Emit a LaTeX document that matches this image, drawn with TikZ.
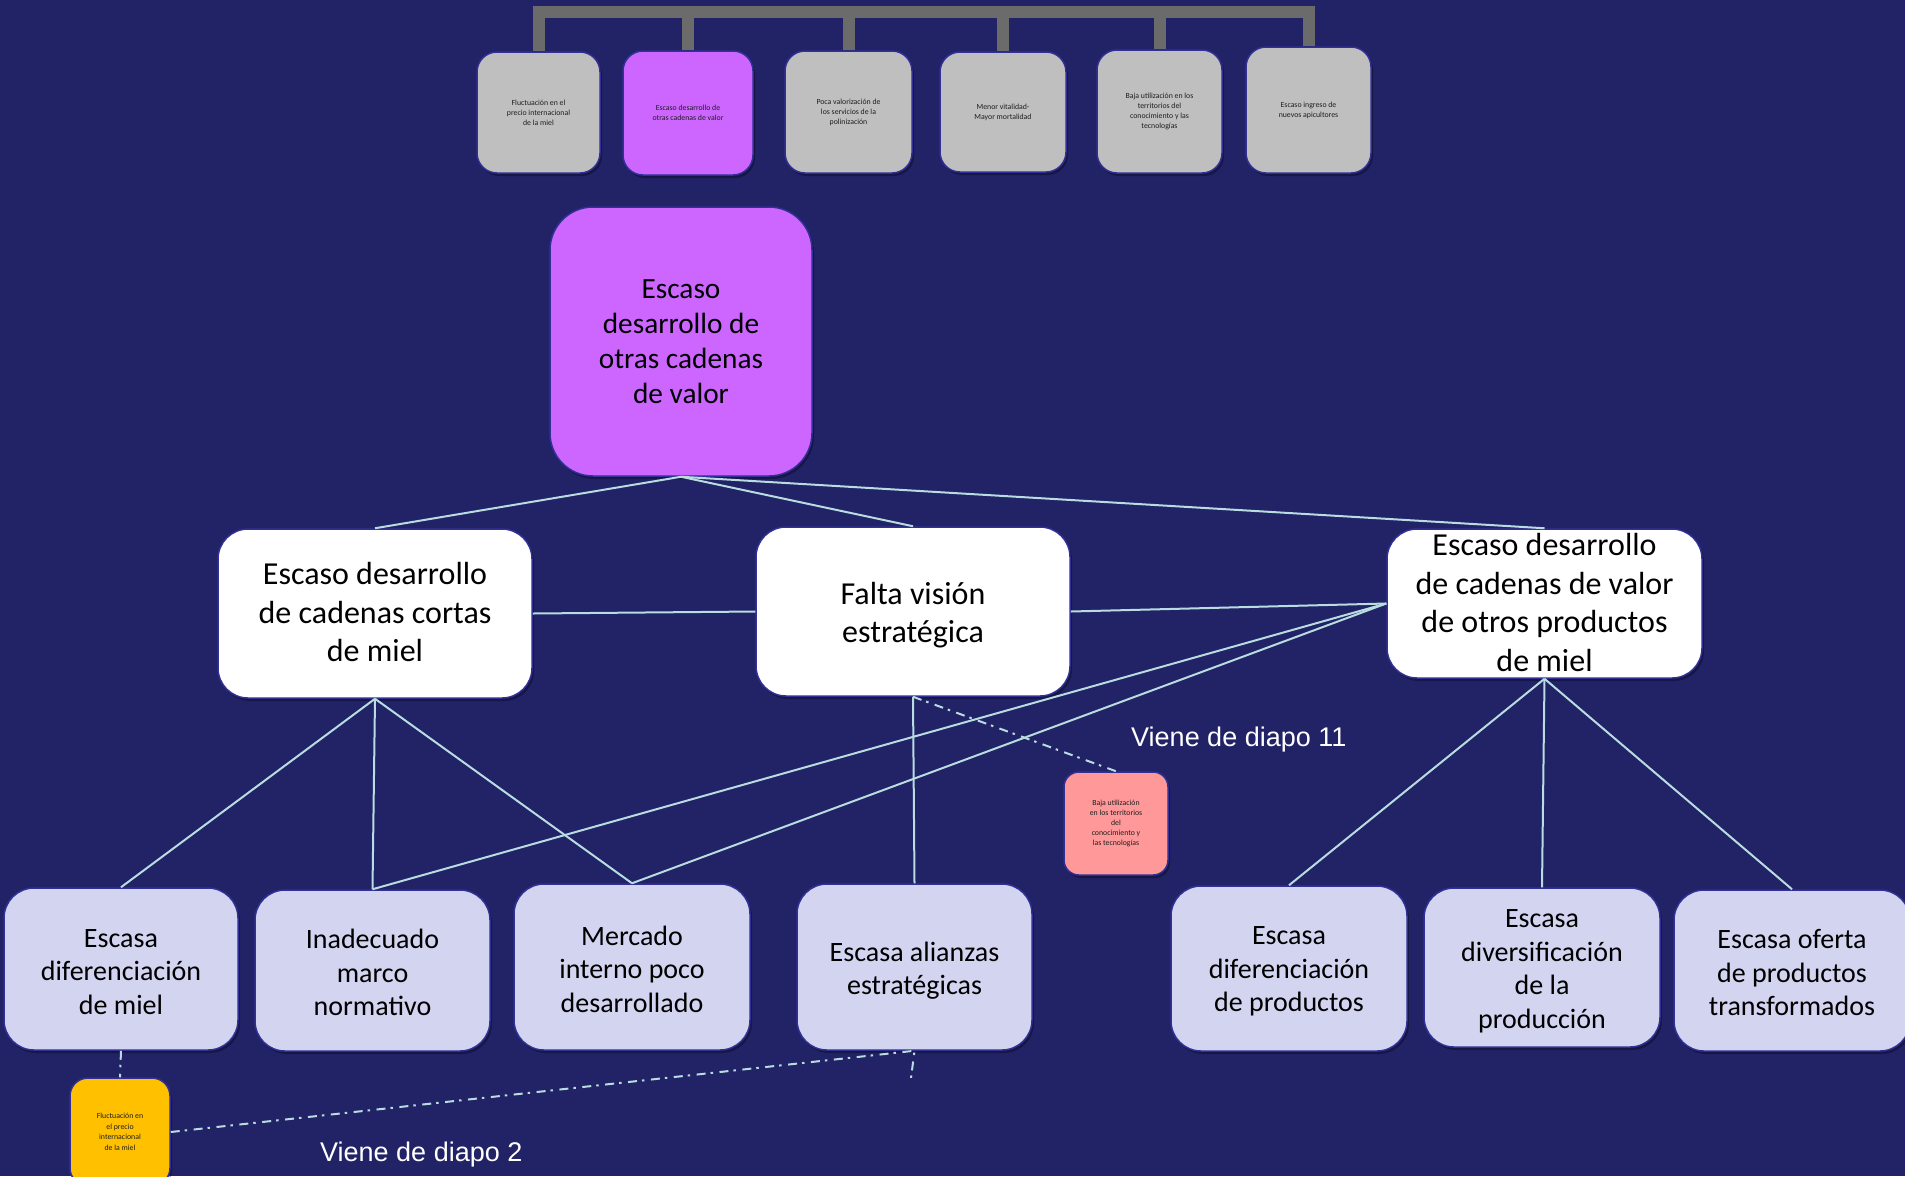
\documentclass[tikz,border=0pt]{standalone}
\usepackage{fontspec}
\setmainfont{Carlito}
\newfontfamily\arialf{Liberation Sans}
\usetikzlibrary{shadows}
\definecolor{bgc}{RGB}{34,34,102}
\definecolor{bordc}{RGB}{48,48,150}
\definecolor{grayc}{RGB}{191,191,191}
\definecolor{purp}{RGB}{204,102,255}
\definecolor{lav}{RGB}{210,212,240}
\definecolor{pinkc}{RGB}{255,153,153}
\definecolor{yelc}{RGB}{255,192,0}
\definecolor{linkc}{RGB}{184,220,224}
\definecolor{barc}{RGB}{107,107,107}
\definecolor{smalltxt}{RGB}{30,30,30}
\tikzset{
 box/.style={rectangle, draw=bordc, line width=1.5pt, inner sep=0pt, align=center, text=black,
   drop shadow={shadow xshift=2pt, shadow yshift=-3pt, opacity=0.3, fill=black}},
 topbox/.style={box, fill=grayc, rounded corners=20pt, font=\fontsize{7.8}{10}\selectfont, text=smalltxt},
 midbox/.style={box, fill=white, rounded corners=30pt, font=\fontsize{32}{38.5}\selectfont, minimum width=314pt, minimum height=169pt},
 lowbox/.style={box, fill=lav, rounded corners=30pt, minimum width=235pt},
 lowtext/.style={inner sep=0pt, align=center, text=black, font=\fontsize{28}{33.5}\selectfont},
 midtext/.style={inner sep=0pt, align=center, text=black, font=\fontsize{32}{38.5}\selectfont},
 link/.style={draw=linkc, line width=2pt},
 dlink/.style={link, dash pattern=on 9pt off 5pt on 2.5pt off 6.5pt},
 bar/.style={draw=barc, line width=12pt, line join=miter},
 note/.style={font=\arialf\fontsize{27}{32}\selectfont, text=white, inner sep=0pt}
}
\begin{document}
\begin{tikzpicture}[x=1pt,y=-1pt]
\useasboundingbox (0,0) rectangle (1905,1176);
\fill[bgc] (0,0) rectangle (1905,1176);

% top row
\node[topbox, minimum width=123pt, minimum height=121pt] (t1) at (538.5,112.5) {Fluctuación en el\\precio internacional\\de la miel};
\node[topbox, fill=purp, minimum width=130pt, minimum height=124pt] (t2) at (688,113) {Escaso desarrollo de\\otras cadenas de valor};
\node[topbox, minimum width=127pt, minimum height=122pt] (t3) at (848.5,112) {Poca valorización de\\los servicios de la\\polinización};
\node[topbox, minimum width=126pt, minimum height=120pt] (t4) at (1003,112) {Menor vitalidad-\\Mayor mortalidad};
\node[topbox, minimum width=125pt, minimum height=123pt] (t5) at (1159.5,111.5) {Baja utilización en los\\territorios del\\conocimiento y las\\tecnologías};
\node[topbox, minimum width=125pt, minimum height=126pt] (t6) at (1308.5,110) {Escaso ingreso de\\nuevos apicultores};

\coordinate (bary) at (0,11.5);
\draw[bar] (t1.north) -- (t1.north |- bary) -- (t6.north |- bary) -- (t6.north);
\draw[bar] (t2.north) -- (t2.north |- bary);
\draw[bar] (t3.north) -- (t3.north |- bary);
\draw[bar] (t4.north) -- (t4.north |- bary);
\draw[bar] (t5.north) -- (t5.north |- bary);

% main
\node[box, fill=purp, rounded corners=43pt, minimum width=262pt, minimum height=269pt, font=\fontsize{29.3}{35}\selectfont] (main) at (681,341.5) {Escaso\\desarrollo de\\otras cadenas\\de valor};

% middle row
\node[midbox] (left) at (375,613.5) {};
\node[midtext] (leftt) at ([yshift=1.5pt]left.center) {Escaso desarrollo\\de cadenas cortas\\de miel};
\node[midbox] (falta) at (913,611.5) {};
\node[midtext] (faltat) at ([yshift=-3.5pt]falta.center) {Falta visión\\estratégica};
\node[midbox, minimum width=315pt, minimum height=149pt] (right) at (1544.5,603.5) {};
\node[midtext] (rightt) at ([yshift=1pt]right.center) {Escaso desarrollo\\de cadenas de valor\\de otros productos\\de miel};

% bottom row
\node[lowbox, minimum width=234pt, minimum height=162pt] (b1) at (121,969) {};
\node[lowtext] (b1t) at ([yshift=-3pt]b1.center) {Escasa\\diferenciación\\de miel};
\node[lowbox, minimum height=161pt] (b2) at (372.5,970.5) {};
\node[lowtext] (b2t) at ([yshift=-2pt]b2.center) {Inadecuado\\marco\\normativo};
\node[lowbox, minimum width=236pt, minimum height=166pt] (b3) at (632,967) {};
\node[lowtext] (b3t) at ([yshift=-2pt]b3.center) {Mercado\\interno poco\\desarrollado};
\node[lowbox, minimum height=166pt] (b4) at (914.5,967) {};
\node[lowtext] (b4t) at ([yshift=-3.5pt]b4.center) {Escasa alianzas\\estratégicas};
\node[lowbox, minimum width=236pt, minimum height=165pt] (b5) at (1289,968.5) {};
\node[lowtext] (b5t) at ([yshift=-3pt]b5.center) {Escasa\\diferenciación\\de productos};
\node[lowbox, minimum width=236pt, minimum height=159pt] (b6) at (1542,967.5) {};
\node[lowtext] (b6t) at ([yshift=-4pt]b6.center) {Escasa\\diversificación\\de la\\producción};
\node[lowbox, minimum width=236pt, minimum height=161pt] (b7) at (1792,970.5) {};
\node[lowtext] (b7t) at ([yshift=-2pt]b7.center) {Escasa oferta\\de productos\\transformados};

% small notes
\node[box, fill=pinkc, rounded corners=15pt, minimum width=104pt, minimum height=103pt, font=\fontsize{7.8}{10}\selectfont, text=smalltxt] (pink) at (1116,823.5) {Baja utilización\\en los territorios\\del\\conocimiento y\\las tecnologías};
\node[box, fill=yelc, rounded corners=18pt, minimum width=100pt, minimum height=108pt, font=\fontsize{7.8}{10.5}\selectfont, text=smalltxt] (yel) at (120,1132) {Fluctuación en\\el precio\\internacional\\de la miel};

% connectors
\draw[link] (main.south) -- (left.north);
\draw[link] (main.south) -- (falta.north);
\draw[link] (main.south) -- (right.north);
\draw[link] (left.east) -- (falta.west);
\draw[link] (falta.east) -- (right.west);
\draw[link] (right.west) -- (b2.north);
\draw[link] (right.west) -- (b3.north);
\draw[link] (left.south) -- (b1.north);
\draw[link] (left.south) -- (b2.north);
\draw[link] (left.south) -- (b3.north);
\draw[link] (falta.south) -- (b4.north);
\draw[link] (right.south) -- (b5.north);
\draw[link] (right.south) -- (b6.north);
\draw[link] (right.south) -- (b7.north);

\coordinate (dend) at (911,1078);
\draw[dlink] (falta.south) -- (pink.north);
\draw[dlink] (b1.south) -- (yel.north);
\draw[dlink] (yel.east) -- (b4.south) -- (dend);

% labels
\node[note, anchor=base west] (v11) at (1131,746) {Viene de diapo 11};
\node[note, anchor=base west] (v2) at (320,1161) {Viene de diapo 2};
\end{tikzpicture}
\end{document}
